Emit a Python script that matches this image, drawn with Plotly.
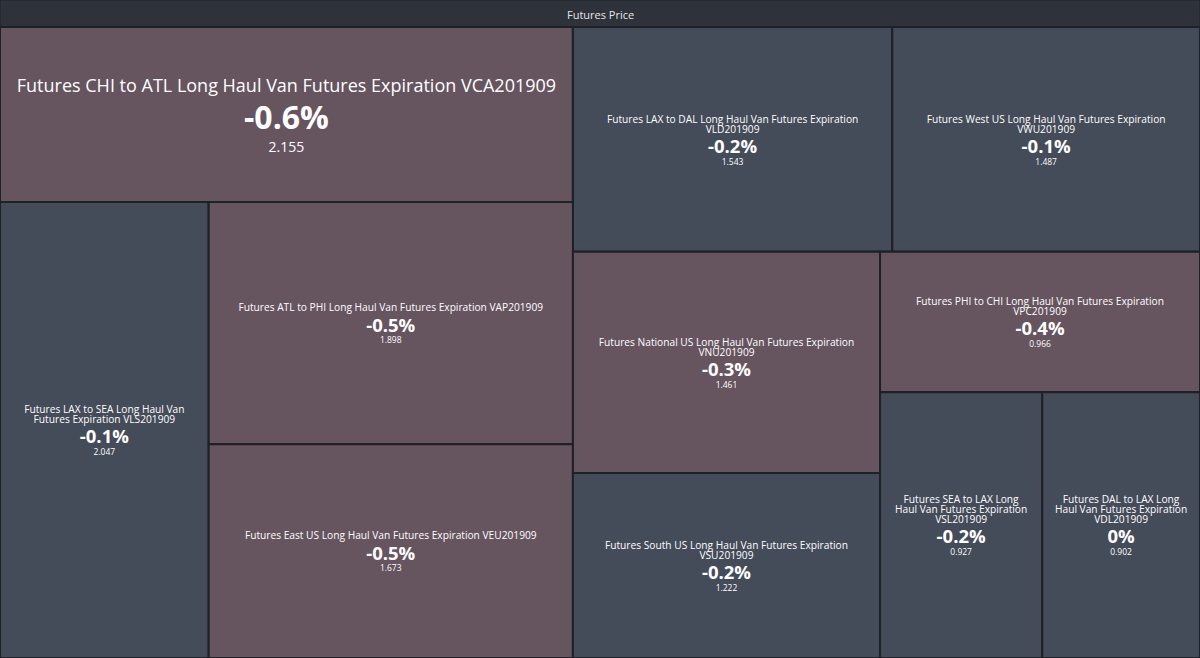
import plotly.graph_objects as go

# Futures contracts, largest tile first
lanes = [
    "Futures CHI to ATL Long Haul Van Futures Expiration VCA201909",
    "Futures LAX to SEA Long Haul Van<br>Futures Expiration VLS201909",
    "Futures ATL to PHI Long Haul Van Futures Expiration VAP201909",
    "Futures East US Long Haul Van Futures Expiration VEU201909",
    "Futures LAX to DAL Long Haul Van Futures Expiration<br>VLD201909",
    "Futures West US Long Haul Van Futures Expiration<br>VWU201909",
    "Futures National US Long Haul Van Futures Expiration<br>VNU201909",
    "Futures South US Long Haul Van Futures Expiration<br>VSU201909",
    "Futures PHI to CHI Long Haul Van Futures Expiration<br>VPC201909",
    "Futures SEA to LAX Long<br>Haul Van Futures Expiration<br>VSL201909",
    "Futures DAL to LAX Long<br>Haul Van Futures Expiration<br>VDL201909",
]
codes = ["VCA", "VLS", "VAP", "VEU", "VLD", "VWU", "VNU", "VSU", "VPC", "VSL", "VDL"]
prices = [2.155, 2.047, 1.898, 1.673, 1.543, 1.487, 1.461, 1.222, 0.966, 0.927, 0.902]
changes = [-0.6, -0.1, -0.5, -0.5, -0.2, -0.1, -0.3, -0.2, -0.4, -0.2, 0.0]
# which layout group each contract sits in (binary split groups)
groups = ["L", "LB", "LBR", "LBR", "RT", "RT", "RBL", "RBL", "RBR", "RBRB", "RBRB"]

group_ids = ["all", "L", "LB", "LBR", "R", "RT", "RB", "RBL", "RBR", "RBRB"]
group_parents = ["", "all", "L", "LB", "all", "R", "R", "RB", "RB", "RBR"]

# tree order matters (sort=False), so interleave groups and leaves
order = [
    ("g", "all"), ("g", "L"), ("l", 0), ("g", "LB"), ("l", 1), ("g", "LBR"),
    ("l", 2), ("l", 3), ("g", "R"), ("g", "RT"), ("l", 4), ("l", 5),
    ("g", "RB"), ("g", "RBL"), ("l", 6), ("l", 7), ("g", "RBR"), ("l", 8),
    ("g", "RBRB"), ("l", 9), ("l", 10),
]

NEG = "#66545f"
FLAT = "#444b59"
EDGE = "#1e2126"
HEAD = "#2d323b"
FONT = "Open Sans"

# text styling: big tile vs the rest
BIG = dict(name=18, pct=32, val=14, base=18, name_gap=22, pct_gap=37, val_gap=23)
SMALL = dict(name=10.2, pct=18.5, val=8.5, base=9.25, name_gap=10, pct_gap=20.5, val_gap=12)


def tile_text(i):
    st = BIG if i == 0 else SMALL
    step = 1.3 * st["base"]  # plotly line spacing
    name_lines = lanes[i].split("<br>")
    rows = [(ln, st["name"], False) for ln in name_lines]
    rows.append((f"{changes[i]:g}%", st["pct"], True))
    rows.append((f"{prices[i]:.3f}", st["val"], False))
    # wanted baseline offsets of every line
    want = [k * st["name_gap"] for k in range(len(name_lines))]
    want.append(want[-1] + st["pct_gap"])
    want.append(want[-1] + st["val_gap"])
    out = []
    for k, (txt, px, bold) in enumerate(rows):
        shift = want[k] - k * step
        body = f"<b>{txt}</b>" if bold else txt
        out.append(
            f"<span style='font-size:{px}px;baseline-shift:{-shift:.1f}px'>{body}</span>"
        )
    return "<br>".join(out), st["base"]


ids, parents, labels, values, colors, texts, sizes = [], [], [], [], [], [], []
for kind, key in order:
    if kind == "g":
        ids.append(key)
        parents.append(group_parents[group_ids.index(key)])
        labels.append(key)
        values.append(0)
        colors.append(EDGE)
        texts.append("")
        sizes.append(12)
    else:
        i = key
        txt, base = tile_text(i)
        ids.append(codes[i])
        parents.append(groups[i])
        labels.append(lanes[i].replace("<br>", " "))
        values.append(prices[i])
        colors.append(NEG if changes[i] <= -0.3 else FLAT)
        texts.append(txt)
        sizes.append(base)

fig = go.Figure(
    go.Treemap(
        ids=ids,
        parents=parents,
        labels=labels,
        values=values,
        text=texts,
        textinfo="text",
        branchvalues="remainder",
        sort=False,
        tiling=dict(packing="binary", pad=0),
        marker=dict(
            colors=colors,
            line=dict(color=EDGE, width=2),
            pad=dict(t=0, l=0, r=0, b=0),
        ),
        textposition="middle center",
        textfont=dict(family=FONT, color="#ffffff", size=sizes),
        pathbar=dict(visible=False),
        hoverinfo="label+value",
        domain=dict(x=[0, 1], y=[0, 1 - 27 / 658]),
    )
)

fig.update_layout(
    width=1200,
    height=658,
    margin=dict(l=0, r=0, t=0, b=0),
    paper_bgcolor=HEAD,
    shapes=[
        dict(type="rect", xref="paper", yref="paper", x0=0, x1=1,
             y0=1 - 27 / 658, y1=1, fillcolor=HEAD,
             line=dict(color=EDGE, width=1), layer="below"),
    ],
    annotations=[
        dict(text="Futures Price", x=0.5, y=1 - 14 / 658, xref="paper", yref="paper",
             yanchor="middle", showarrow=False,
             font=dict(family=FONT, size=11, color="#e6e6e6")),
    ],
)

fig.write_html(
    "out.html",
    config={"displayModeBar": False},
    post_script="document.body.style.margin='0';",
)
